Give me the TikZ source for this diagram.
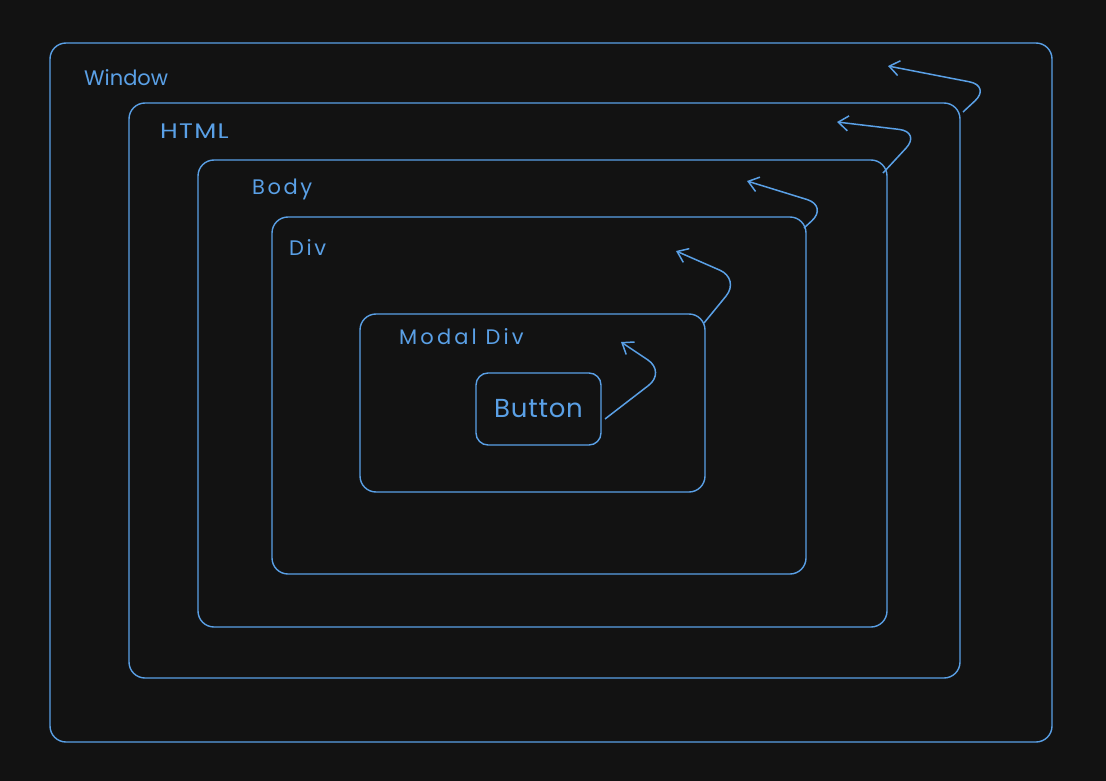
\documentclass[tikz,border=0pt]{standalone}
\usepackage{fontspec}
\setmainfont{Poppins}
\usetikzlibrary{arrows.meta}
\definecolor{bg}{HTML}{121212}
\definecolor{ink}{HTML}{5AA0E6}
\begin{document}
\begin{tikzpicture}[x=1pt,y=-1pt,
  frame/.style={draw=ink,line width=1.4pt,rounded corners=16pt},
  lbl/.style={text=ink,inner sep=0pt,anchor=west},
  bubble/.style={draw=ink,line width=1.5pt,rounded corners=22pt,-{Straight Barb[length=10pt,width=15pt,line width=1.5pt]}}]
\fill[bg] (0,0) rectangle (1106,781);
\useasboundingbox (0,0) rectangle (1106,781);
\draw[frame] (50,43) rectangle (1052,742);
\draw[frame] (129,103) rectangle (960,678);
\draw[frame] (198,160) rectangle (887,627);
\draw[frame] (272,217) rectangle (806,574);
\draw[frame] (360,314) rectangle (705,492);
\node[draw=ink,line width=1.4pt,rounded corners=12pt,minimum width=125pt,minimum height=72pt,text=ink,font=\fontsize{26}{30}\selectfont\addfontfeature{LetterSpace=3}] (button) at (538.5,409) {Button};
\node[lbl,font=\fontsize{21}{24}\selectfont] (window) at (84,78) {Window};
\node[lbl,xscale=1.22,font=\fontsize{21}{24}\selectfont\addfontfeature{LetterSpace=5}] (html) at (160,131) {HTML};
\node[lbl,font=\fontsize{21}{24}\selectfont\addfontfeature{LetterSpace=12}] (body) at (252,189) {Body};
\node[lbl,font=\fontsize{21}{24}\selectfont\addfontfeature{LetterSpace=12}] (div) at (289,248) {Div};
\node[lbl,font=\fontsize{21}{24}\selectfont\addfontfeature{LetterSpace=15}] (modal) at (399,337) {Modal Div};
\coordinate (a1s) at (605,419); \coordinate (a1b) at (666,372); \coordinate (a1e) at (621,342);
\coordinate (a2s) at (704,323); \coordinate (a2b) at (740,279); \coordinate (a2e) at (676,251);
\coordinate (a3s) at (804,228); \coordinate (a3b) at (828,206); \coordinate (a3e) at (747,181);
\coordinate (a4s) at (883,173); \coordinate (a4b) at (921,132); \coordinate (a4e) at (837,122);
\coordinate (a5s) at (963,112); \coordinate (a5b) at (991,86); \coordinate (a5e) at (888,66);
\draw[bubble] (a1s) -- (a1b) -- (a1e);
\draw[bubble] (a2s) -- (a2b) -- (a2e);
\draw[bubble] (a3s) -- (a3b) -- (a3e);
\draw[bubble] (a4s) -- (a4b) -- (a4e);
\draw[bubble] (a5s) -- (a5b) -- (a5e);
\end{tikzpicture}
\end{document}
